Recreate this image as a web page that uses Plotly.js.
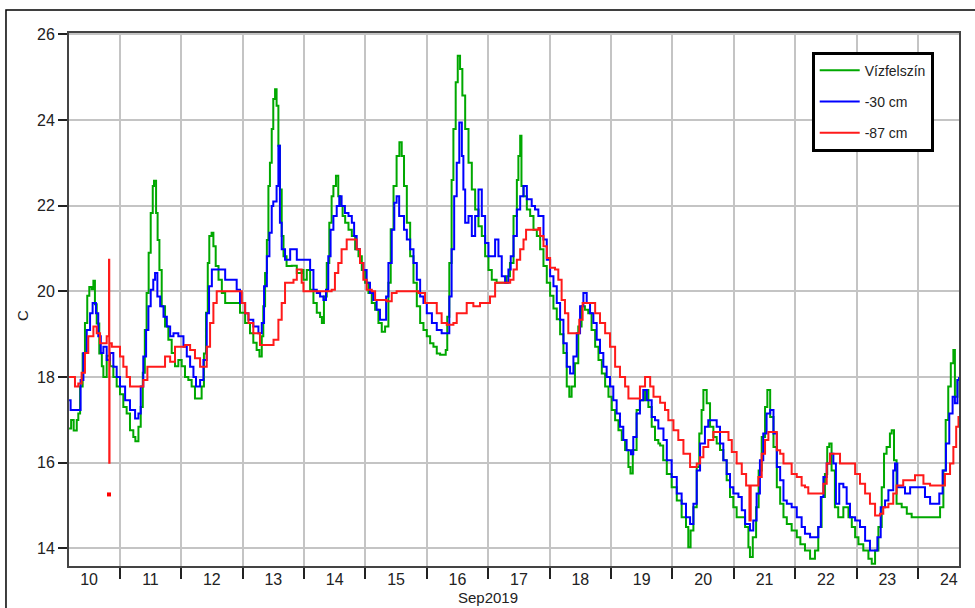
<!DOCTYPE html>
<html><head><meta charset="utf-8">
<script src="https://cdn.plot.ly/plotly-3.0.1.min.js"></script>
<style>body{margin:0;background:#fff}#chart{width:975px;height:608px}</style>
</head><body><div id="chart"></div>
<script>
// hours since 2019-09-10 00:00 and temperature (°C)
const greenT = [4.2,5.0,6.0,7.2,7.8,8.5,9.5,10.4,11.3,12.1,13.0,13.7,14.3,15.0,16.0,17.0,17.6,18.9,20.2,21.5,22.8,24.1,25.4,26.7,28.0,29.3,30.1,31.3,32.2,33.0,33.8,34.5,35.3,36.1,36.9,37.4,38.2,38.8,39.5,40.4,41.7,43.0,44.3,45.6,46.9,48.2,49.5,50.8,52.1,53.4,54.7,56.0,56.9,57.7,58.4,59.0,59.9,60.6,61.5,62.6,63.9,65.2,67.1,69.1,71.0,73.0,74.9,76.2,77.5,78.6,79.5,80.1,80.8,81.5,82.1,82.7,83.4,84.0,84.7,85.3,86.0,86.6,87.3,88.0,89.2,91.2,93.2,95.1,95.8,97.1,98.4,99.7,101.0,102.3,103.0,103.8,104.9,105.9,106.8,107.5,108.5,109.4,110.1,111.1,112.1,113.4,114.7,116.0,117.3,118.6,119.9,121.2,122.5,123.8,125.1,126.4,127.7,129.0,129.9,131.0,132.2,133.3,134.2,135.1,136.2,137.5,138.8,140.1,141.4,142.7,144.0,145.3,146.6,147.9,149.2,150.5,151.4,152.0,152.8,153.7,154.4,155.3,156.1,157.0,157.9,159.0,160.3,161.6,162.9,164.2,165.5,166.8,168.1,169.4,171.3,173.3,175.2,176.5,177.9,179.2,179.8,180.5,181.0,181.8,183.1,184.4,185.7,187.0,188.3,189.6,190.9,192.2,193.5,194.8,196.1,197.4,198.7,199.7,200.6,201.9,203.2,204.5,205.8,207.1,208.4,209.8,211.1,212.4,213.7,215.0,216.3,217.6,218.9,220.2,221.5,222.8,223.6,224.5,226.0,227.3,229.3,230.6,231.9,233.2,234.5,235.2,236.4,237.8,239.7,241.7,243.6,245.3,246.2,247.1,248.2,249.5,250.5,251.4,252.1,253.4,254.7,256.0,257.3,258.6,259.9,261.2,262.5,263.8,265.1,267.1,268.4,269.7,270.3,271.4,272.7,273.7,274.9,276.2,277.1,278.2,279.5,280.8,282.1,283.4,284.7,286.6,288.6,290.0,291.8,293.8,295.7,297.0,298.3,299.6,300.5,301.3,302.2,303.5,304.8,306.8,308.8,310.1,311.4,312.7,314.6,316.6,317.9,319.2,320.5,321.8,322.7,323.7,325.0,325.7,326.6,327.6,329.6,331.6,333.5,335.5,337.4,339.4,341.3,343.3,344.6,345.9,346.8,347.8,348.8,349.8,350.4,351.4,352.0];
const greenV = [16.8,17.0,16.75,17.0,17.15,17.78,18.55,19.26,19.9,20.1,20.05,20.25,19.7,19.25,18.55,18.25,18.0,18.5,18.25,18.0,17.78,17.6,17.3,17.15,16.76,16.6,16.5,16.84,17.3,18.1,19.1,19.96,20.9,21.83,22.46,22.58,21.83,21.2,20.5,19.65,19.18,18.87,18.56,18.25,18.4,18.25,18.0,17.93,17.78,17.5,17.5,17.78,18.55,19.5,20.66,21.29,21.37,21.05,20.59,20.27,19.96,19.73,19.73,19.73,19.5,19.26,19.02,18.8,18.63,18.48,18.95,19.65,20.43,21.2,22.46,23.0,23.79,24.49,24.72,24.33,23.4,22.38,21.29,20.82,20.59,20.6,20.43,20.5,20.27,20.5,20.04,19.73,19.5,19.4,19.26,19.88,20.66,21.6,22.22,22.46,22.7,22.22,21.99,21.76,21.6,21.44,21.29,20.98,20.82,20.5,20.2,19.96,19.73,19.57,19.26,19.06,19.18,20.2,21.45,22.46,23.16,23.48,23.16,22.46,21.6,20.82,20.2,19.65,19.26,19.1,18.95,18.79,18.71,18.55,18.52,18.52,18.63,19.41,20.66,22.6,23.79,24.88,25.5,25.19,24.57,23.79,23.0,22.38,21.91,21.52,21.29,20.82,20.5,20.27,20.2,20.2,20.35,20.66,21.76,22.6,23.16,23.63,22.46,22.22,21.91,21.76,21.44,21.29,20.98,20.59,20.2,19.9,19.6,19.35,19.0,18.56,17.78,17.54,17.78,18.32,19.18,19.65,19.57,19.49,19.1,18.71,18.4,18.08,17.78,17.54,17.23,16.99,16.76,16.53,16.3,15.9,15.75,16.3,17.23,17.46,17.7,17.3,16.84,16.53,16.45,16.4,16.06,15.74,15.43,15.12,14.73,14.5,14.03,14.42,14.96,15.9,16.68,17.23,17.7,17.39,16.84,16.6,16.45,16.3,16.06,15.59,15.2,14.96,14.73,14.73,14.5,14.03,13.8,14.26,14.96,15.82,16.6,17.3,17.7,17.07,16.37,15.43,15.04,14.73,14.57,14.42,14.26,14.1,13.95,13.76,13.95,14.5,15.2,15.74,16.37,16.45,15.82,14.96,14.73,14.96,14.73,14.5,14.26,14.1,13.95,13.76,13.64,13.95,14.5,15.43,16.21,16.37,16.68,16.76,16.06,15.04,14.96,14.81,14.73,14.73,14.73,14.73,14.73,14.73,14.96,15.82,17.0,17.78,18.32,18.63,17.54,17.93,18.0];

const blueT = [4.2,4.8,7.8,8.7,9.8,11.1,12.4,13.4,14.7,15.6,16.6,17.6,18.9,20.2,21.5,22.8,24.1,26.1,28.0,30.0,31.3,32.2,33.2,34.3,35.2,36.1,37.1,37.8,38.7,39.8,41.1,42.4,43.7,45.0,46.9,48.9,50.2,51.5,52.8,53.8,55.4,56.7,58.0,58.9,60.0,61.3,63.2,65.2,67.1,69.7,71.0,73.0,74.3,76.2,78.2,79.5,80.4,81.5,82.5,83.4,84.0,85.3,86.0,86.6,87.3,88.6,90.6,93.2,95.1,97.7,98.4,99.7,101.0,102.3,103.6,104.6,105.5,106.4,107.5,108.8,109.8,110.7,112.0,113.4,114.7,115.6,116.6,117.9,119.2,120.5,121.8,123.1,124.4,125.7,127.0,128.1,129.0,130.3,131.3,132.2,133.2,134.2,135.1,136.2,137.5,138.8,140.1,141.4,142.7,144.0,146.0,147.9,149.8,151.8,152.8,153.7,154.7,155.7,156.7,157.7,158.3,159.0,160.3,161.6,162.9,164.2,165.5,166.8,168.1,169.4,170.7,172.0,173.3,174.6,175.9,176.8,177.9,179.2,180.5,181.8,183.1,185.0,186.3,187.6,188.3,189.6,190.9,192.2,193.5,194.8,196.1,197.4,198.7,200.0,201.3,202.6,203.9,205.2,206.5,207.8,209.1,210.4,211.7,213.0,214.3,215.6,216.9,218.2,219.5,220.8,222.1,223.8,224.7,226.0,227.3,228.6,230.0,231.9,233.2,234.5,236.5,237.8,239.7,241.7,243.6,245.3,246.9,248.2,249.5,250.8,252.7,254.0,256.0,257.3,258.6,259.9,261.2,262.5,263.8,265.8,267.1,268.4,270.3,271.6,272.9,274.2,275.5,276.8,278.2,279.5,280.8,282.1,283.4,284.7,286.6,288.6,290.5,291.8,293.8,295.7,297.0,298.0,299.0,300.3,301.6,302.9,303.9,305.2,306.8,308.1,309.4,311.4,313.3,315.3,317.2,318.8,320.1,321.4,323.1,324.4,326.3,327.0,327.9,329.0,330.9,332.9,334.8,336.8,338.7,340.7,342.6,344.3,345.6,346.9,348.2,349.5,350.4,351.4,352.0];
const blueV = [17.46,17.23,17.23,17.93,18.56,19.1,19.49,19.73,19.49,18.95,18.56,18.71,18.4,18.56,18.24,18.0,17.78,17.46,17.23,17.03,17.15,17.78,18.48,19.1,19.65,20.04,20.27,20.43,19.88,19.65,19.41,19.18,18.95,19.02,18.95,18.71,18.48,18.24,18.0,17.78,17.93,18.4,19.49,20.12,20.51,20.51,20.51,20.27,20.27,20.04,19.73,19.49,19.34,19.18,19.02,19.26,20.12,20.82,21.37,21.99,22.1,22.46,23.4,21.6,20.98,20.74,20.98,20.74,20.74,20.74,20.5,20.04,19.96,19.88,19.8,20.04,20.82,21.44,21.76,21.99,22.22,21.99,21.83,21.76,21.6,21.29,20.98,20.66,20.5,20.2,19.96,19.8,19.57,19.34,19.34,19.88,20.66,21.44,22.07,22.22,21.76,21.76,21.44,21.21,20.98,20.66,20.27,19.88,19.73,19.49,19.26,19.1,19.02,19.02,19.88,20.98,22.22,23.0,23.94,23.16,22.38,21.6,21.76,21.29,21.76,22.38,21.76,21.13,20.82,20.82,21.21,20.82,20.35,20.2,20.51,20.82,21.29,21.91,22.22,22.46,22.15,21.99,21.91,21.76,21.76,21.21,20.74,20.35,20.12,19.73,19.34,18.79,18.24,18.08,18.48,19.02,19.65,19.96,19.73,19.49,19.26,18.87,18.56,18.24,18.0,17.78,17.46,17.15,16.84,16.53,16.29,16.2,16.6,17.15,17.46,17.7,17.46,17.07,16.99,16.8,16.53,16.06,15.67,15.28,15.04,14.73,14.57,15.04,15.82,16.45,16.84,16.99,16.99,16.84,16.45,16.06,15.74,15.43,15.28,15.2,14.89,14.57,14.42,14.65,15.28,16.06,16.68,17.15,17.23,16.68,15.9,15.59,15.12,15.04,14.96,14.73,14.5,14.34,14.26,14.26,14.5,15.2,15.67,15.98,16.21,15.98,15.04,15.51,15.43,15.04,14.73,14.65,14.5,14.18,13.95,13.95,14.26,14.96,15.12,15.36,15.82,15.98,15.43,15.43,15.28,15.43,15.43,15.43,15.2,15.04,15.04,15.28,15.82,16.45,17.15,17.54,17.39,17.93,18.0];

const redT = [4.2,5.9,6.5,7.8,9.1,10.4,11.7,13.7,15.0,16.3,18.2,18.9,19.7,19.8,19.9,20.0,20.9,22.8,24.1,25.4,26.7,28.0,31.9,33.2,34.8,41.7,43.7,45.6,49.5,51.5,53.4,55.4,56.7,58.0,59.3,60.6,61.9,69.7,71.7,73.0,74.3,76.2,78.8,81.5,84.1,86.0,87.3,88.6,91.9,93.2,95.1,95.8,106.8,108.1,109.4,110.7,112.7,115.3,116.6,117.9,119.2,120.5,122.5,123.8,128.3,130.3,132.2,138.8,140.7,143.3,145.9,147.9,149.8,151.8,154.4,155.7,157.7,159.6,162.2,164.8,167.4,168.7,170.7,174.6,176.6,177.9,179.2,180.5,181.8,182.8,187.6,188.3,189.6,190.9,192.2,194.1,195.4,196.7,198.0,199.3,202.6,203.6,204.9,208.4,209.8,211.7,213.7,215.6,217.6,219.5,221.5,222.8,226.0,227.3,229.3,231.3,232.6,235.2,237.1,238.4,240.4,242.3,244.3,246.9,249.5,250.8,252.1,254.0,256.0,260.6,261.9,263.2,265.1,267.1,268.8,269.9,270.1,270.6,272.3,273.6,274.9,276.2,277.5,279.5,280.8,282.1,283.4,285.3,286.6,288.6,290.5,291.8,293.1,297.7,299.0,300.3,301.6,303.5,305.5,309.4,311.4,313.3,315.3,317.2,319.2,321.1,322.4,324.4,326.3,327.6,330.2,334.8,336.1,338.1,340.7,345.2,346.5,348.5,349.8,350.9,351.8,352.0];
const redV = [18.0,18.0,17.78,17.85,18.1,18.56,18.95,19.18,19.02,18.79,18.79,18.95,18.95,20.74,16.0,18.79,18.71,18.71,18.48,18.24,18.0,17.78,17.78,17.93,18.24,18.48,18.36,18.71,18.75,18.63,18.44,18.24,18.24,18.71,19.26,19.73,20.0,20.0,19.73,19.49,19.26,19.02,18.75,18.75,18.87,19.34,19.73,20.2,20.27,20.51,20.2,20.0,20.04,20.43,20.66,20.98,21.21,21.21,20.98,20.66,20.27,20.04,20.0,19.8,19.77,19.96,20.0,20.0,19.96,19.73,19.73,19.49,19.26,19.22,19.26,19.49,19.49,19.73,19.65,19.73,19.73,19.88,20.2,20.2,20.27,20.51,20.74,20.98,21.21,21.44,21.48,21.29,21.05,20.78,20.55,20.51,20.27,19.8,19.49,19.02,19.02,19.34,19.73,19.73,19.49,19.26,19.02,18.71,18.24,18.0,17.78,17.5,17.5,17.78,18.0,17.78,17.54,17.4,17.23,16.99,16.76,16.53,16.21,15.9,15.98,16.13,16.37,16.53,16.72,16.72,16.53,16.25,15.98,15.74,15.47,15.47,14.65,15.47,15.47,15.67,16.21,16.53,16.72,16.72,16.29,16.21,15.98,15.98,15.74,15.67,15.47,15.43,15.28,15.28,15.51,15.98,16.21,16.21,15.98,15.98,15.74,15.51,15.28,15.04,14.77,14.81,14.96,15.04,15.28,15.47,15.59,15.71,15.71,15.51,15.47,15.47,15.74,15.98,16.37,16.84,17.07,17.07];

const redDotT = [19.8];
const redDotV = [15.26];

const seriesNames = ['Vízfelszín', '-30 cm', '-87 cm'];
const yTicks = [14, 16, 18, 20, 22, 24, 26];
const xTitle = 'Sep2019';
const yTitle = 'C';

function toDate(h) {
  const d = new Date(Date.UTC(2019, 8, 10) + Math.round(h * 3600000));
  const p = n => String(n).padStart(2, '0');
  return d.getUTCFullYear() + '-' + p(d.getUTCMonth() + 1) + '-' + p(d.getUTCDate()) + ' ' + p(d.getUTCHours()) + ':' + p(d.getUTCMinutes());
}

const traces = [
  {x: greenT.map(toDate), y: greenV, name: seriesNames[0], legendgroup: 'a', mode: 'lines', line: {color: '#00a800', width: 2, shape: 'hv'}},
  {x: blueT.map(toDate), y: blueV, name: seriesNames[1], legendgroup: 'b', mode: 'lines', line: {color: '#0000ff', width: 2, shape: 'hv'}},
  {x: redT.map(toDate), y: redV, name: seriesNames[2], legendgroup: 'c', mode: 'lines', line: {color: '#ff1a1a', width: 2, shape: 'hv'}},
  {x: redDotT.map(toDate), y: redDotV, mode: 'markers', showlegend: false, marker: {color: '#ff0000', size: 4, symbol: 'square'}, hoverinfo: 'skip'}
];

const layout = {
  width: 975, height: 608,
  margin: {l: 69, r: 16, t: 33, b: 42},
  paper_bgcolor: '#ffffff', plot_bgcolor: '#ffffff',
  font: {family: 'Liberation Sans, Arial, sans-serif', color: '#222', size: 15},
  showlegend: true,
  legend: {x: 0.8345, y: 0.965, xanchor: 'left', yanchor: 'top', bgcolor: '#ffffff',
           bordercolor: '#000', borderwidth: 3, font: {size: 14, color: '#222'},
           tracegroupgap: 10, itemwidth: 40},
  xaxis: {
    type: 'date',
    range: [toDate(4.17), toDate(352.0)],
    tick0: '2019-09-10', dtick: 86400000,
    ticklabelmode: 'period', tickformat: '%d',
    ticks: 'outside', ticklen: 11, tickwidth: 2, tickcolor: '#222',
    ticklabelstandoff: -13,
    showgrid: true, gridcolor: '#c4c4c4', gridwidth: 2,
    showline: true, linecolor: '#444', linewidth: 2, mirror: true,
    tickfont: {size: 16, color: '#222'},
    zeroline: false
  },
  yaxis: {
    range: [13.59, 26.03],
    tickvals: yTicks, ticktext: yTicks.map(String),
    ticks: 'outside', ticklen: 9, tickwidth: 2, tickcolor: '#222',
    showgrid: true, gridcolor: '#c4c4c4', gridwidth: 2,
    showline: true, linecolor: '#444', linewidth: 2, mirror: true,
    tickfont: {size: 16, color: '#222'},
    zeroline: false
  },
  annotations: [
    {text: xTitle, xref: 'paper', yref: 'paper', x: 0.4708, y: -0.0600, xanchor: 'center', yanchor: 'middle',
     showarrow: false, font: {size: 15, color: '#222'}},
    {text: yTitle, xref: 'paper', yref: 'paper', x: -0.0528, y: 0.469, xanchor: 'center', yanchor: 'middle',
     textangle: -90, showarrow: false, font: {size: 15, color: '#222'}}
  ],
  shapes: [
    {type: 'rect', xref: 'paper', yref: 'paper', x0: -0.0708, x1: 1.2, y0: -0.3, y1: 1.0432,
     line: {color: '#000', width: 1.5}, fillcolor: 'rgba(0,0,0,0)', layer: 'below'}
  ]
};

Plotly.newPlot('chart', traces, layout, {displayModeBar: false, staticPlot: true});
</script>
</body></html>
